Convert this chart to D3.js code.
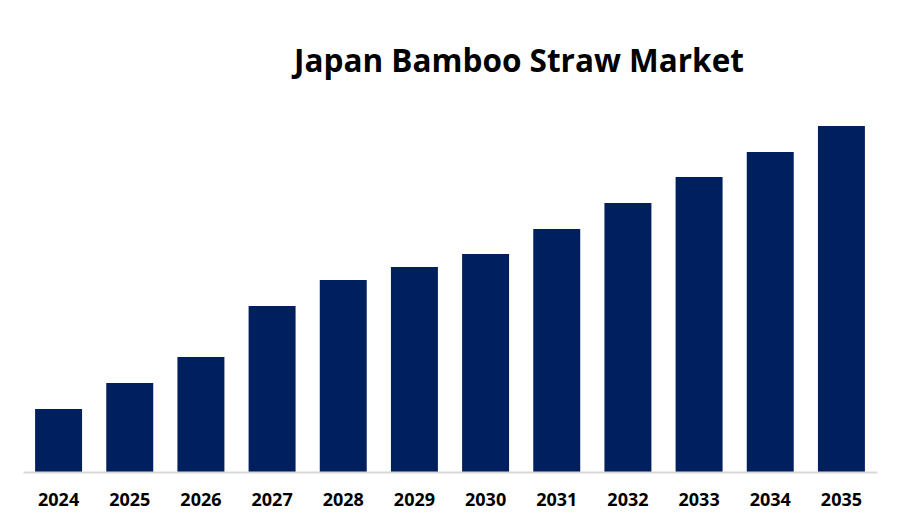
<!DOCTYPE html>
<html>
<head>
<meta charset="utf-8">
<script src="https://cdn.jsdelivr.net/npm/d3@7"></script>
<style>
  body { margin: 0; background: #fff; }
  text { font-family: "Open Sans", sans-serif; font-weight: 700; fill: #000; }
</style>
</head>
<body>
<div id="chart"></div>
<script>
// Data
const years = ["2024", "2025", "2026", "2027", "2028", "2029", "2030", "2031", "2032", "2033", "2034", "2035"];
const values = [6.3, 8.9, 11.5, 16.6, 19.2, 20.5, 21.8, 24.3, 26.9, 29.5, 32.0, 34.6];
const title = "Japan Bamboo Straw Market";

// Dimensions
const dimensions = { width: 900, height: 525, left: 23, right: 877, baseline: 472, top: 126 };

const svg = d3
  .select("#chart")
  .append("svg")
  .attr("width", dimensions.width)
  .attr("height", dimensions.height);

// Scales
const xScale = d3
  .scaleBand()
  .domain(years)
  .range([dimensions.left, dimensions.right])
  .paddingInner(0.34)
  .paddingOuter(0.17);

const yScale = d3
  .scaleLinear()
  .domain([0, d3.max(values)])
  .range([dimensions.baseline, dimensions.top]);

// Bars
svg
  .append("g")
  .selectAll("rect")
  .data(values)
  .join("rect")
  .attr("x", (d, i) => xScale(years[i]))
  .attr("y", (d) => yScale(d))
  .attr("width", xScale.bandwidth())
  .attr("height", (d) => yScale(0) - yScale(d))
  .attr("fill", "#001f5e");

// Axis
const xAxis = d3.axisBottom(xScale).tickSize(0).tickPadding(21);
const xAxisGroup = svg
  .append("g")
  .attr("transform", `translate(0, ${dimensions.baseline})`)
  .call(xAxis);

xAxisGroup.select(".domain").attr("stroke", "#d9d9d9").attr("stroke-width", 2);
xAxisGroup
  .selectAll(".tick text")
  .attr("font-family", "Open Sans, sans-serif")
  .attr("font-weight", 700)
  .attr("font-size", 18)
  .attr("fill", "#000");

// Title
svg
  .append("text")
  .attr("x", 519)
  .attr("y", 72)
  .attr("text-anchor", "middle")
  .attr("font-size", 31.5)
  .text(title);
</script>
</body>
</html>
